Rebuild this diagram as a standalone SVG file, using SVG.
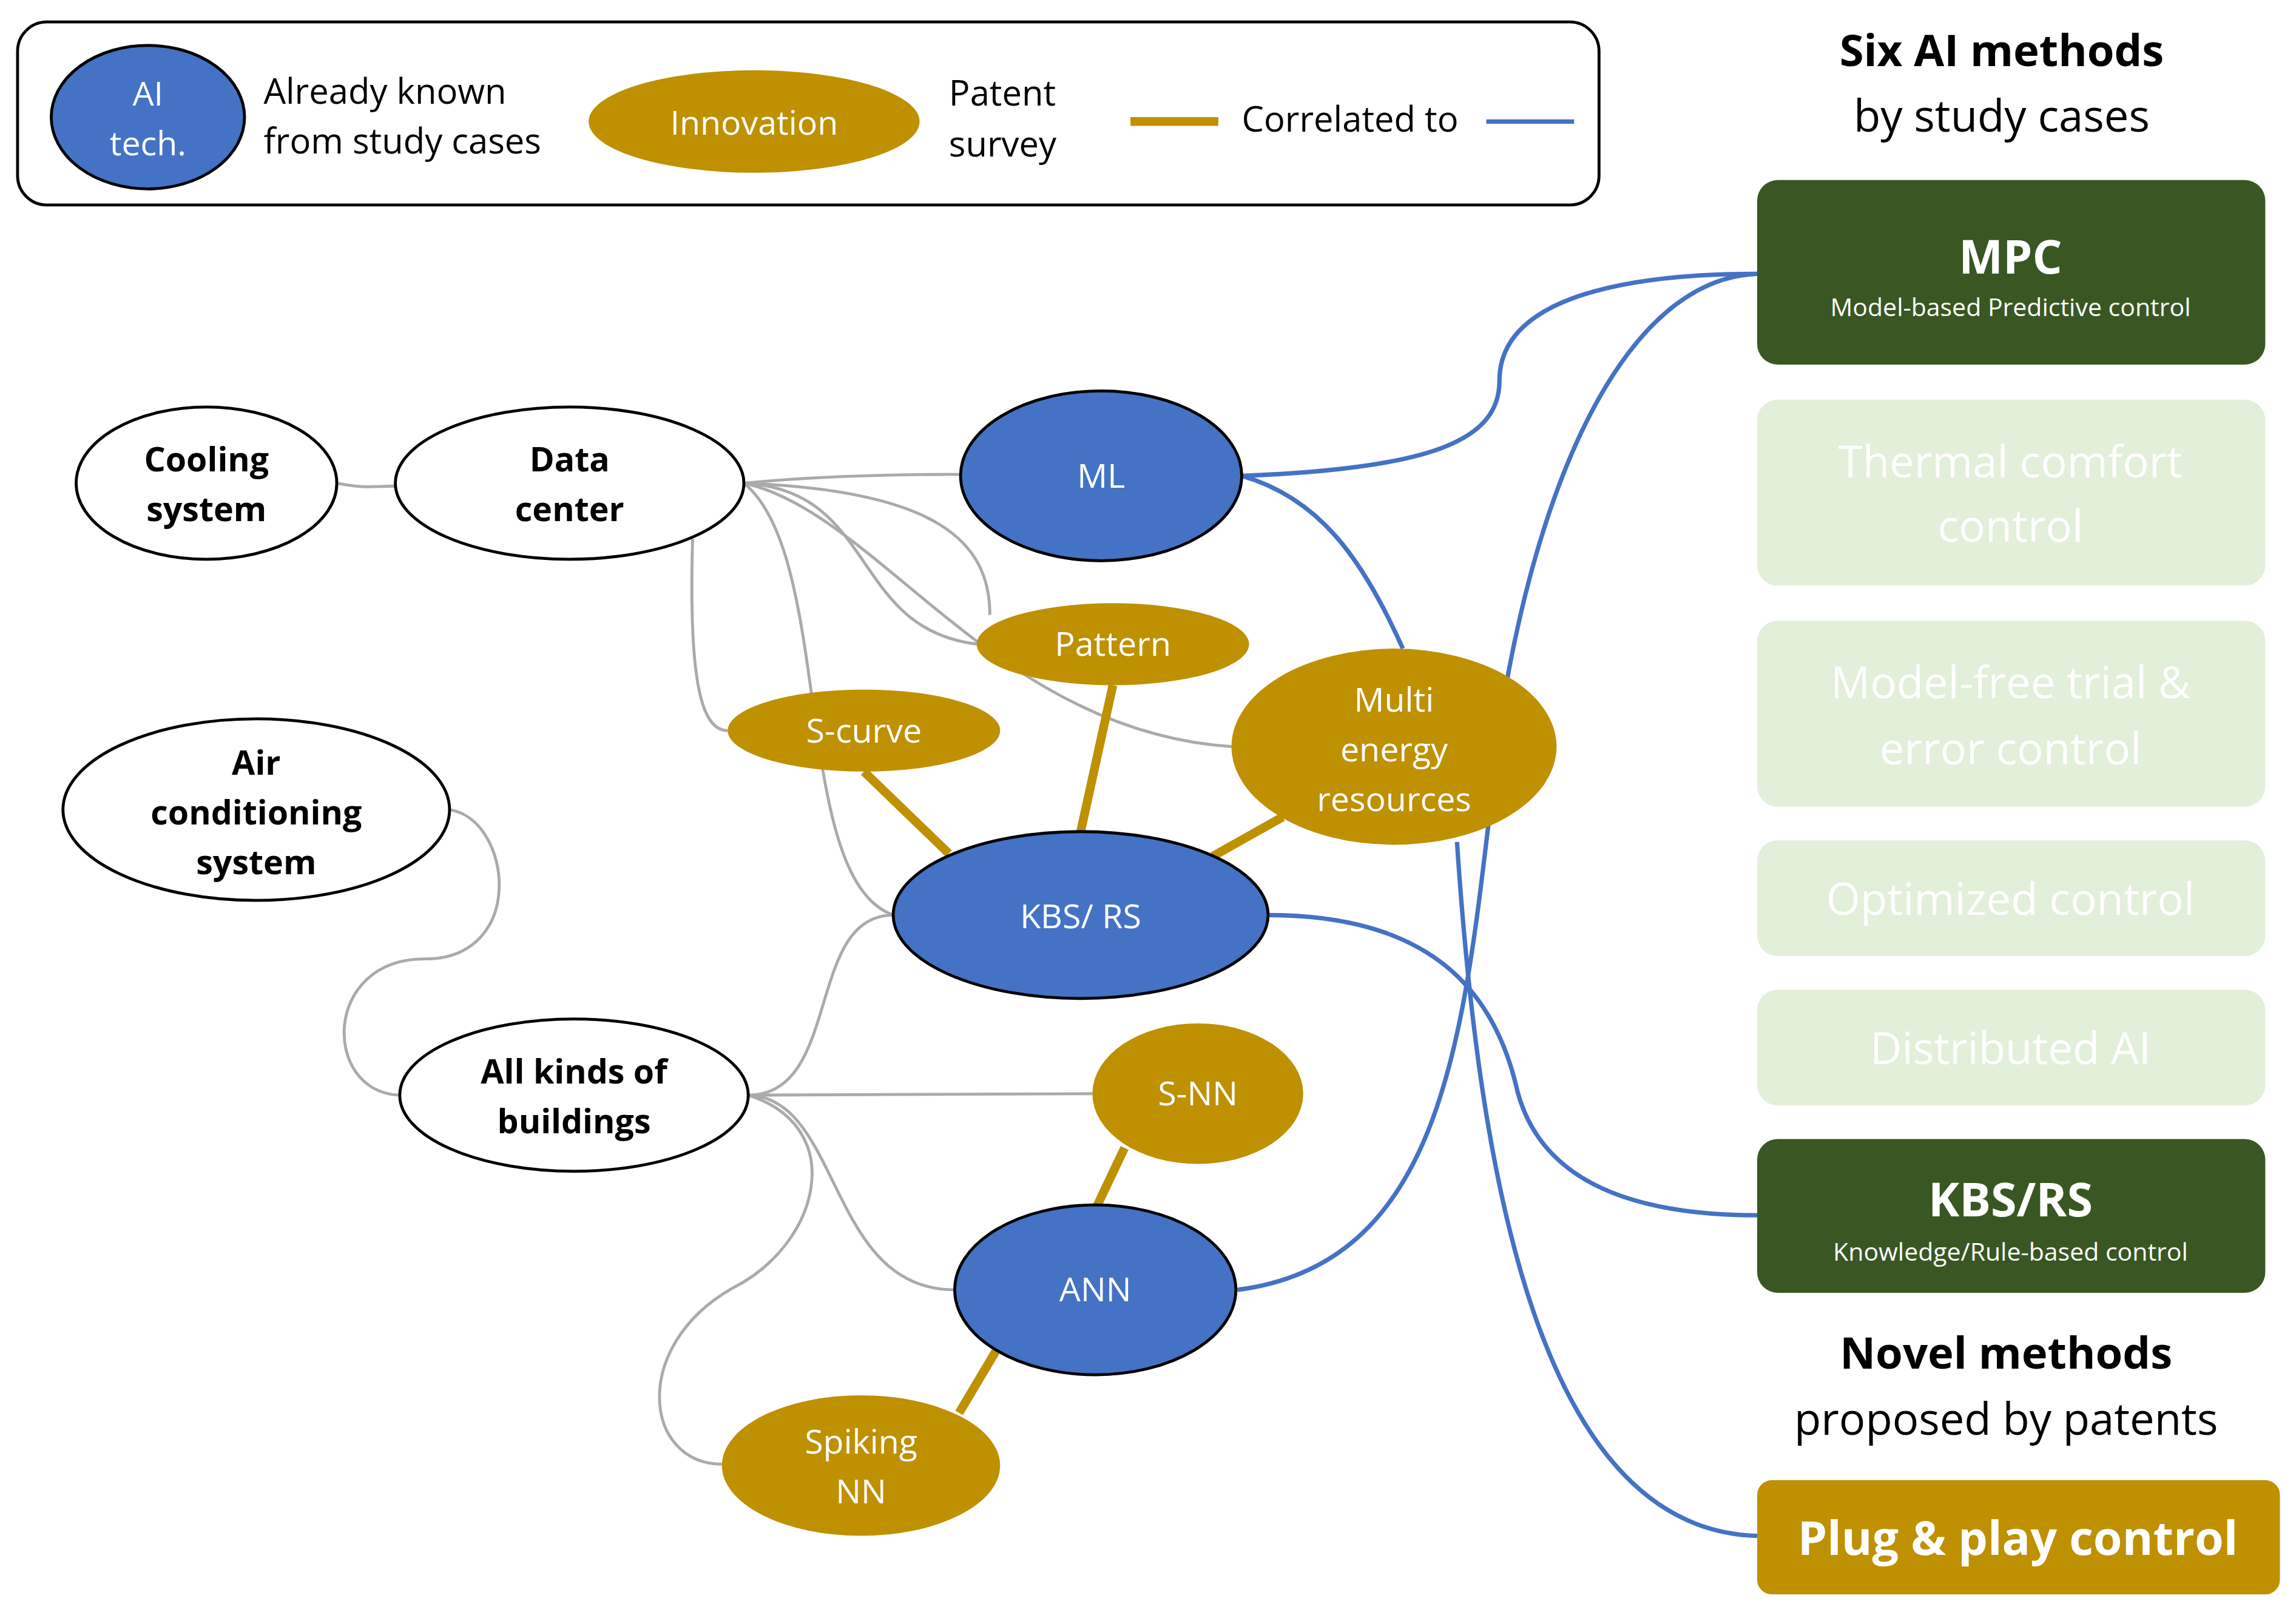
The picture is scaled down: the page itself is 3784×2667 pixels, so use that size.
<svg xmlns="http://www.w3.org/2000/svg" width="3784" height="2667" viewBox="0 0 3784 2667">
<style>
text{font-family:"Open Sans","Noto Sans","Liberation Sans",sans-serif;text-anchor:middle}
.w{fill:#fff;stroke:#000;stroke-width:2}
.b{fill:#4472c4;stroke:#000;stroke-width:2}
.g{fill:#bf9000}
.tw{fill:#fff;font-size:23px}
.tb{fill:#000;font-size:23px;font-weight:bold}
.gr{fill:none;stroke:#aaa;stroke-width:2}
.gl{fill:none;stroke:#bf9000;stroke-width:6}
.bl{fill:none;stroke:#4472c4;stroke-width:3}
.lt{fill:#e2efd9}
.ltt{fill:#fff;font-size:30px}
</style>
<rect width="3784" height="2667" fill="#fff"/>
<g transform="scale(2.4133)">
<g id="legend">
<rect x="12" y="15" width="1080" height="125" rx="20" fill="#fff" stroke="#000" stroke-width="2"/>
<ellipse class="b" cx="101" cy="80" rx="66" ry="49"/>
<text class="tw" x="101" y="72">AI</text><text class="tw" x="101" y="106">tech.</text>
<text x="180" y="71" font-size="24" style="text-anchor:start">Already known</text>
<text x="180" y="105" font-size="24" style="text-anchor:start">from study cases</text>
<ellipse class="g" cx="515" cy="83" rx="113" ry="35"/>
<text class="tw" x="515" y="92">Innovation</text>
<text x="648" y="72" font-size="24" style="text-anchor:start">Patent</text>
<text x="648" y="107" font-size="24" style="text-anchor:start">survey</text>
<line x1="772" y1="83" x2="832" y2="83" stroke="#bf9000" stroke-width="6"/>
<text x="848" y="90" font-size="24" style="text-anchor:start">Correlated to</text>
<line x1="1015" y1="83" x2="1075" y2="83" stroke="#4472c4" stroke-width="3"/>
</g>
<g id="titles">
<text x="1367" y="45" font-size="30" font-weight="bold">Six AI methods</text>
<text x="1367" y="90" font-size="30">by study cases</text>
<text x="1370" y="935" font-size="30" font-weight="bold">Novel methods</text>
<text x="1370" y="980" font-size="30">proposed by patents</text>
</g>
<g id="connectors">
<path class="gr" d="M230,330 C250,334 255,332 270,332"/>
<path class="gr" d="M508,330 C560,325 610,324 656,324"/>
<path class="gr" d="M508,330 C600,335 580,430 668,440"/>
<path class="gr" d="M508,330 C640,335 676,370 676,420"/>
<path class="gr" d="M508,330 C600,350 680,500 842,510"/>
<path class="gr" d="M508,330 C570,380 540,600 610,625"/>
<path class="gr" d="M473,368 C470,470 480,499 497,499"/>
<path class="gr" d="M307,553 C350,560 360,655 290,655 C220,655 220,745 272,748"/>
<path class="gr" d="M511,748 C575,748 550,625 610,625"/>
<path class="gr" d="M511,748 L746,747"/>
<path class="gr" d="M511,748 C575,750 565,881 652,881"/>
<path class="gr" d="M511,748 C580,770 560,850 500,880 C430,920 440,1000 493,1000"/>
<path class="gl" d="M590,527 L648,583"/>
<path class="gl" d="M760,468 L738,568"/>
<path class="gl" d="M876,558 L828,585"/>
<path class="gl" d="M768,784 L749,824"/>
<path class="gl" d="M680,923 L655,965"/>
<path class="bl" d="M848,325 C980,320 1024,300 1024,260 C1024,200 1120,187 1200,187"/>
<path class="bl" d="M848,325 C900,340 930,380 958,443"/>
<path class="bl" d="M1200,187 C1120,190 1060,300 1030,460 C1000,650 1010,860 845,881"/>
<path class="bl" d="M866,625 C980,625 1020,680 1035,740 C1050,810 1120,830 1200,830"/>
<path class="bl" d="M995,575 C1010,800 1050,1045 1200,1049"/>
</g>
<g id="cooling"><ellipse class="w" cx="141" cy="330" rx="89" ry="52"/><text class="tb" x="141" y="322">Cooling</text><text class="tb" x="141" y="356">system</text></g>
<g id="datacenter"><ellipse class="w" cx="389" cy="330" rx="119" ry="52"/><text class="tb" x="389" y="322">Data</text><text class="tb" x="389" y="356">center</text></g>
<g id="ml"><ellipse class="b" cx="752" cy="325" rx="96" ry="58"/><text class="tw" x="752" y="333">ML</text></g>
<g id="pattern"><ellipse class="g" cx="760" cy="440" rx="93" ry="28"/><text class="tw" x="760" y="448">Pattern</text></g>
<g id="scurve"><ellipse class="g" cx="590" cy="499" rx="93" ry="28"/><text class="tw" x="590" y="507">S-curve</text></g>
<g id="multi"><ellipse class="g" cx="952" cy="510" rx="111" ry="67"/><text class="tw" x="952" y="486">Multi</text><text class="tw" x="952" y="520">energy</text><text class="tw" x="952" y="554">resources</text></g>
<g id="aircon"><ellipse class="w" cx="175" cy="553" rx="132" ry="62"/><text class="tb" x="175" y="529">Air</text><text class="tb" x="175" y="563">conditioning</text><text class="tb" x="175" y="597">system</text></g>
<g id="kbsrs"><ellipse class="b" cx="738" cy="625" rx="128" ry="57"/><text class="tw" x="738" y="634">KBS/ RS</text></g>
<g id="buildings"><ellipse class="w" cx="392" cy="748" rx="119" ry="52"/><text class="tb" x="392" y="740">All kinds of</text><text class="tb" x="392" y="774">buildings</text></g>
<g id="snn"><ellipse class="g" cx="818" cy="747" rx="72" ry="48"/><text class="tw" x="818" y="755">S-NN</text></g>
<g id="ann"><ellipse class="b" cx="748" cy="881" rx="96" ry="58"/><text class="tw" x="748" y="889">ANN</text></g>
<g id="spiking"><ellipse class="g" cx="588" cy="1001" rx="95" ry="48"/><text class="tw" x="588" y="993">Spiking</text><text class="tw" x="588" y="1027">NN</text></g>
<g id="mpc"><rect x="1200" y="123" width="347" height="126" rx="14" fill="#385723"/><text x="1373" y="187" fill="#fff" font-size="32" font-weight="bold">MPC</text><text x="1373" y="216" fill="#fff" font-size="17">Model-based Predictive control</text></g>
<g id="thermal"><rect class="lt" x="1200" y="273" width="347" height="127" rx="14"/><text class="ltt" x="1373" y="326">Thermal comfort</text><text class="ltt" x="1373" y="370">control</text></g>
<g id="modelfree"><rect class="lt" x="1200" y="424" width="347" height="127" rx="14"/><text class="ltt" x="1373" y="477">Model-free trial &amp;</text><text class="ltt" x="1373" y="522">error control</text></g>
<g id="optimized"><rect class="lt" x="1200" y="574" width="347" height="79" rx="14"/><text class="ltt" x="1373" y="625">Optimized control</text></g>
<g id="distributed"><rect class="lt" x="1200" y="676" width="347" height="79" rx="14"/><text class="ltt" x="1373" y="727">Distributed AI</text></g>
<g id="kbsbox"><rect x="1200" y="778" width="347" height="105" rx="14" fill="#385723"/><text x="1373" y="831" fill="#fff" font-size="32" font-weight="bold">KBS/RS</text><text x="1373" y="861" fill="#fff" font-size="17">Knowledge/Rule-based control</text></g>
<g id="plug"><rect x="1200" y="1011" width="357" height="78" rx="10" fill="#bf9000"/><text x="1378" y="1062" fill="#fff" font-size="32" font-weight="bold">Plug &amp; play control</text></g>
</g>
</svg>
